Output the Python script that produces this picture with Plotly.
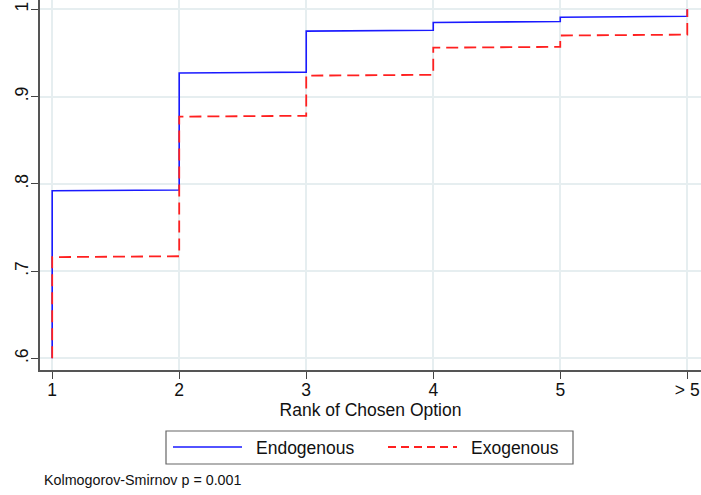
import plotly.graph_objects as go

# ---- data ----
ranks = [1, 2, 3, 4, 5, 6]
tick_labels = ["1", "2", "3", "4", "5", "> 5"]
# CDF value at the left and right end of each step interval [k, k+1)
endo_left = [0.792, 0.927, 0.975, 0.985, 0.991]
endo_right = [0.793, 0.928, 0.976, 0.986, 0.992]
exo_left = [0.716, 0.877, 0.924, 0.956, 0.970]
exo_right = [0.717, 0.878, 0.925, 0.957, 0.971]
y_floor = 0.6
y_top = 1.0
y_ticks = [0.6, 0.7, 0.8, 0.9, 1.0]
y_tick_text = [".6", ".7", ".8", ".9", "1"]
note = "Kolmogorov-Smirnov p = 0.001"


def step_path(left, right):
    xs, ys = [ranks[0]], [y_floor]
    for i in range(len(left)):
        xs += [ranks[i], ranks[i + 1]]
        ys += [left[i], right[i]]
    xs.append(ranks[-1])
    ys.append(y_top)
    return xs, ys


FONT = "Liberation Sans, Arial, Helvetica, sans-serif"
ex, ey = step_path(endo_left, endo_right)
xx, xy = step_path(exo_left, exo_right)

fig = go.Figure()
fig.add_trace(go.Scatter(x=ex, y=ey, mode="lines", name="Endogenous",
                         line=dict(color="#1a1aff", width=1.6)))
fig.add_trace(go.Scatter(x=xx, y=xy, mode="lines", name="Exogenous",
                         line=dict(color="#ff2020", width=1.8, dash="12px,6px")))

W, H = 701, 495
L, R, T, B = 40, 0, 0, 125
pw, ph = W - L - R, H - T - B


def px(x):
    return (x - L) / pw


def py(y):
    return (H - B - y) / ph


axis_common = dict(showline=True, linecolor="#555555", linewidth=1.5,
                   showgrid=True, gridcolor="#e6eef0", gridwidth=1.5,
                   ticks="outside", ticklen=7, tickcolor="#444444", tickwidth=1.2,
                   zeroline=False, automargin=False,
                   tickfont=dict(family=FONT, size=17.5, color="#111"))

fig.update_layout(
    width=W, height=H,
    margin=dict(l=L, r=R, t=T, b=B),
    paper_bgcolor="white", plot_bgcolor="white",
    showlegend=False,
    xaxis=dict(range=[0.904, 6.108], tickvals=ranks, ticktext=tick_labels,
               ticklabelstandoff=-4,
               title=dict(text="Rank of Chosen Option", standoff=3,
                          font=dict(family=FONT, size=17.5, color="#111")),
               **axis_common),
    yaxis=dict(range=[0.5866, 1.0107], tickvals=y_ticks, ticktext=y_tick_text,
               tickangle=-90, ticklabelstandoff=-4, **axis_common),
)

# manual legend box (Stata-style)
fig.add_shape(type="rect", xref="paper", yref="paper",
              x0=px(166), x1=px(573), y0=py(464), y1=py(431),
              line=dict(color="#666666", width=1.2), fillcolor="white")
fig.add_shape(type="line", xref="paper", yref="paper",
              x0=px(173), x1=px(242), y0=py(447), y1=py(447),
              line=dict(color="#1a1aff", width=1.6))
fig.add_shape(type="line", xref="paper", yref="paper",
              x0=px(388), x1=px(457), y0=py(447), y1=py(447),
              line=dict(color="#ff2020", width=1.8, dash="8px,5px"))
fig.add_annotation(x=px(254), y=py(447.5), xref="paper", yref="paper",
                   text="Endogenous", showarrow=False, xanchor="left", yanchor="middle",
                   font=dict(family=FONT, size=17.5, color="#111"))
fig.add_annotation(x=px(469), y=py(447.5), xref="paper", yref="paper",
                   text="Exogenous", showarrow=False, xanchor="left", yanchor="middle",
                   font=dict(family=FONT, size=17.5, color="#111"))
fig.add_annotation(x=px(42), y=py(480), xref="paper", yref="paper",
                   text=note, showarrow=False, xanchor="left", yanchor="middle",
                   font=dict(family=FONT, size=14.3, color="#111"))

# remove the default 8px body margin so the figure fills the window exactly
fig.write_html("out.html", config={"displayModeBar": False},
               post_script="document.body.style.margin='0px';")
